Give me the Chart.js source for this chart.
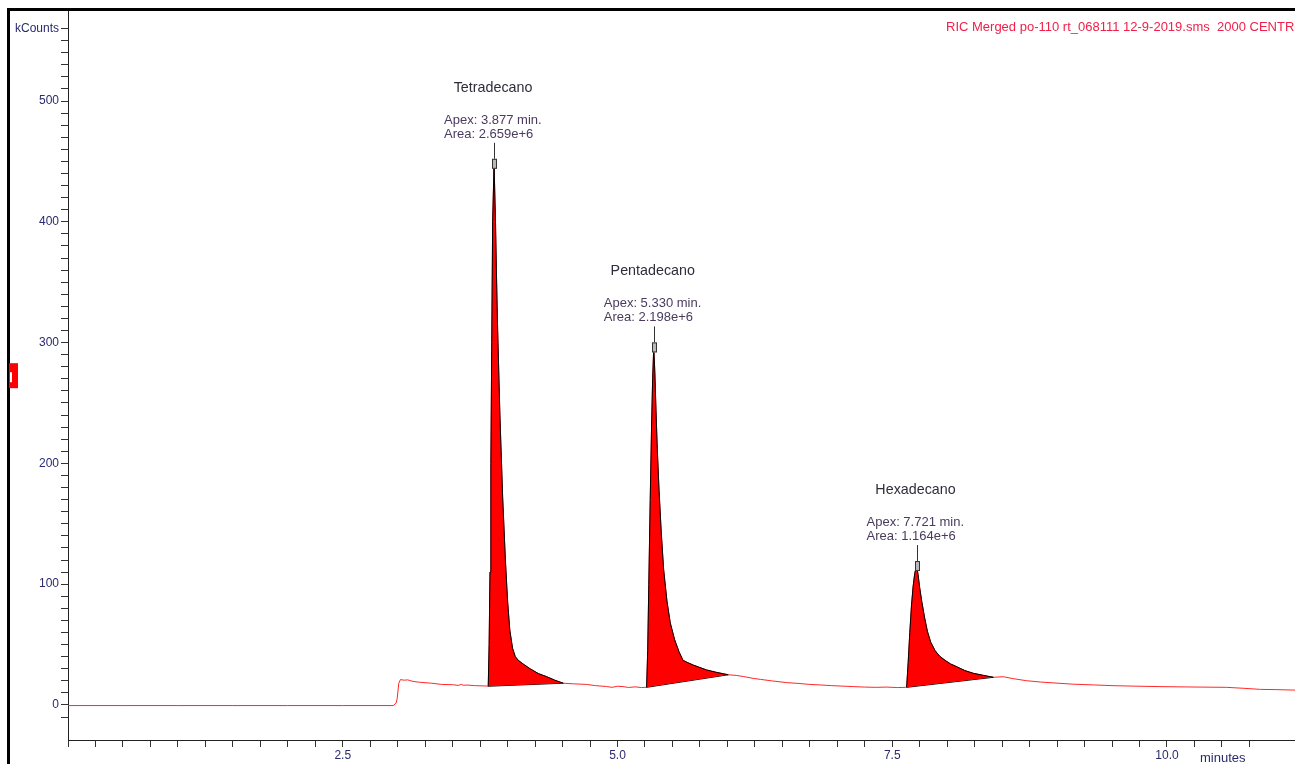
<!DOCTYPE html>
<html>
<head>
<meta charset="utf-8">
<script src="https://cdn.jsdelivr.net/npm/chart.js@4.4.1/dist/chart.umd.min.js"></script>
<style>
  body { margin: 0; background: #fff; }
  #wrap { width: 1295px; height: 764px; }
</style>
</head>
<body>
<div id="wrap"><canvas id="ric" width="1295" height="764"></canvas></div>
<script>
// trace (minutes, kCounts)
const times = [
  0, 0.5, 1.0, 1.5, 2.0, 2.5, 2.96, 2.985, 2.995, 3.01, 3.025, 3.06, 3.09, 3.12, 3.14, 3.2, 3.31, 3.4, 3.5, 3.55, 3.58, 3.6, 3.63, 3.7, 3.81,
  3.824, 3.832, 3.84, 3.848, 3.856, 3.864, 3.877, 3.89, 3.898, 3.908, 3.93, 3.955, 3.98, 4.0, 4.02, 4.045, 4.07, 4.097, 4.14, 4.204, 4.28, 4.356, 4.43, 4.507,
  4.6, 4.72, 4.8, 4.9, 4.95, 5.0, 5.05, 5.1, 5.16, 5.22, 5.25,
  5.265, 5.275, 5.285, 5.298, 5.31, 5.32, 5.33, 5.34, 5.35, 5.362, 5.378, 5.398, 5.42, 5.45, 5.48, 5.52, 5.56, 5.596, 5.64, 5.69, 5.75, 5.81, 5.9, 6.008,
  6.08, 6.15, 6.235, 6.3, 6.4, 6.54, 6.65, 6.75, 6.84, 6.95, 7.05, 7.146, 7.25, 7.35, 7.45, 7.55, 7.62,
  7.631, 7.645, 7.66, 7.675, 7.69, 7.705, 7.721, 7.735, 7.75, 7.77, 7.795, 7.82, 7.85, 7.89, 7.93, 7.98, 8.03, 8.086, 8.16, 8.238, 8.33, 8.42,
  8.51, 8.6, 8.72, 8.85, 9.027, 9.15, 9.33, 9.5, 9.7, 9.936, 10.2, 10.54, 10.7, 10.85, 11.0, 11.165
];
const counts = [
  -0.5, -0.5, -0.5, -0.5, -0.5, -0.5, -0.5, 1.5, 5, 18, 21, 20.5, 20.8, 20, 19.5, 18.8, 18, 17, 16.8, 16.2, 17, 16.3, 16.5, 16, 15.7,
  15.5, 50, 110, 200, 300, 400, 448, 400, 360, 316, 240, 172, 120, 86, 62, 47, 40, 37, 34, 30, 26, 23.4, 20.5, 18,
  17.5, 17, 16, 15.3, 14.6, 15.5, 15.2, 14.5, 15, 14.4, 14.6,
  14.6, 45, 100, 170, 230, 270, 296, 275, 245, 212, 178, 143, 112, 86, 68, 54, 44, 37, 35, 33, 31, 29, 27, 25,
  24.5, 23.5, 22, 21.2, 20, 18.5, 17.8, 17, 16.6, 16, 15.6, 15.2, 14.8, 14.6, 14.8, 14.4, 14.6,
  14.6, 35, 60, 82, 98, 109, 115, 108, 97, 85, 72, 61, 52, 45, 40.5, 37, 34, 31.7, 28.5, 26.2, 24.5, 22.9,
  23.4, 21.8, 20.1, 19, 17.9, 17.2, 16.6, 16, 15.6, 15.2, 14.9, 14.6, 13.8, 12.9, 12.7, 12.3
];

const peakNames = ["Tetradecano", "Pentadecano", "Hexadecano"];
const peakApex = [3.877, 5.330, 7.721];
const peakAreas = ["2.659e+6", "2.198e+6", "1.164e+6"];
const peakStart = [3.824, 5.265, 7.631];
const peakEnd = [4.507, 6.008, 8.42];

const yLabels = [0, 100, 200, 300, 400, 500];
const xLabels = [2.5, 5.0, 7.5, 10.0];
const titleText = "RIC Merged po-110 rt_068111 12-9-2019.sms  2000 CENTROID";

const FONT = "Liberation Sans, Arial, sans-serif";

const trace = times.map((t, i) => ({ x: t, y: counts[i] }));

const datasets = [{
  label: "RIC",
  data: trace,
  borderColor: "rgb(255,40,40)",
  borderWidth: 1,
  pointRadius: 0,
  tension: 0,
  fill: false,
  order: 10
}];

// each peak: its curve filled down to the straight integration baseline
peakNames.forEach((name, k) => {
  const i0 = times.indexOf(peakStart[k]);
  const i1 = times.indexOf(peakEnd[k]);
  const curveIdx = datasets.length;
  datasets.push({
    label: name,
    data: trace.slice(i0, i1 + 1),
    borderColor: "#000",
    borderWidth: 1,
    backgroundColor: "#ff0000",
    pointRadius: 0,
    tension: 0,
    fill: curveIdx + 1,
    order: 1
  });
  datasets.push({
    label: name + " base",
    data: [trace[i0], trace[i1]],
    borderColor: "#000",
    borderWidth: 1,
    pointRadius: 0,
    fill: false,
    order: 1
  });
});

const decor = {
  id: "decor",
  afterDraw(chart) {
    const ctx = chart.ctx;
    const xs = chart.scales.x, ys = chart.scales.y;
    ctx.save();

    // frame
    ctx.strokeStyle = "#000";
    ctx.lineWidth = 3;
    ctx.beginPath();
    ctx.moveTo(8.5, 764);
    ctx.lineTo(8.5, 9.5);
    ctx.lineTo(1295, 9.5);
    ctx.stroke();

    // red level marker on the left
    const my = ys.getPixelForValue(273);
    ctx.fillStyle = "#ff0000";
    ctx.fillRect(9, my - 12, 9, 25);
    ctx.fillStyle = "#fff";
    ctx.fillRect(10, my - 3, 2, 10);

    // title
    ctx.fillStyle = "#f0204a";
    ctx.font = "13px " + FONT;
    ctx.textAlign = "left";
    ctx.textBaseline = "alphabetic";
    ctx.fillText(titleText, 946, 31);

    // x unit
    ctx.fillStyle = "#2a2a70";
    ctx.font = "13px " + FONT;
    ctx.fillText("minutes", xs.getPixelForValue(10.0) + 33, 762);

    // peak labels
    peakNames.forEach((name, k) => {
      const idx = times.indexOf(peakApex[k]);
      const px = xs.getPixelForValue(peakApex[k]);
      const py = ys.getPixelForValue(counts[idx]);
      ctx.strokeStyle = "#333";
      ctx.lineWidth = 1;
      ctx.beginPath();
      ctx.moveTo(Math.round(px) + 0.5, py - 5);
      ctx.lineTo(Math.round(px) + 0.5, py - 21);
      ctx.stroke();
      ctx.fillStyle = "#b8b8b8";
      ctx.fillRect(Math.round(px) - 2, py - 5, 5, 10);
      ctx.strokeRect(Math.round(px) - 2 + 0.5, py - 5 + 0.5, 4, 9);

      ctx.fillStyle = "#2e2e3a";
      ctx.font = "14.3px " + FONT;
      ctx.textAlign = "center";
      ctx.fillText(name, px - 1, py - 72);
      ctx.fillStyle = "#4a3a5e";
      ctx.font = "13px " + FONT;
      ctx.textAlign = "left";
      ctx.fillText("Apex: " + peakApex[k].toFixed(3) + " min.", px - 50, py - 40);
      ctx.fillText("Area: " + peakAreas[k], px - 50, py - 26);
    });
    ctx.restore();
  }
};

new Chart(document.getElementById("ric"), {
  type: "line",
  data: { datasets: datasets },
  options: {
    responsive: false,
    animation: false,
    devicePixelRatio: 1,
    layout: { padding: { left: 0, top: 9, right: 0, bottom: 0 } },
    plugins: {
      legend: { display: false },
      tooltip: { enabled: false },
      decor: {}
    },
    scales: {
      x: {
        type: "linear",
        min: 0,
        max: 11.165,
        afterBuildTicks: (s) => {
          s.ticks = s.ticks.filter(t => Math.abs(t.value * 4 - Math.round(t.value * 4)) < 1e-6);
        },
        afterFit: (s) => { s.height = 24; },
        grid: { drawOnChartArea: false, tickLength: 7, color: "#333" },
        border: { color: "#222", width: 1 },
        ticks: {
          stepSize: 0.25,
          autoSkip: false,
          maxRotation: 0,
          padding: 1,
          color: "#2a2a70",
          font: { family: FONT, size: 12 },
          callback: (v) => xLabels.some(l => Math.abs(l - v) < 1e-6) ? v.toFixed(1) : ""
        }
      },
      y: {
        type: "linear",
        min: -29,
        max: 576,
        afterBuildTicks: (s) => {
          s.ticks = s.ticks.filter(t => Math.abs(t.value % 10) < 1e-6);
        },
        afterFit: (s) => { s.width = 68; },
        grid: { drawOnChartArea: false, tickLength: 7, color: "#333" },
        border: { color: "#222", width: 1 },
        ticks: {
          stepSize: 10,
          autoSkip: false,
          padding: 2,
          color: "#2a2a70",
          font: { family: FONT, size: 12 },
          callback: (v) => v === 560 ? "kCounts" : (yLabels.includes(v) ? String(v) : "")
        }
      }
    }
  },
  plugins: [decor]
});
</script>
</body>
</html>
